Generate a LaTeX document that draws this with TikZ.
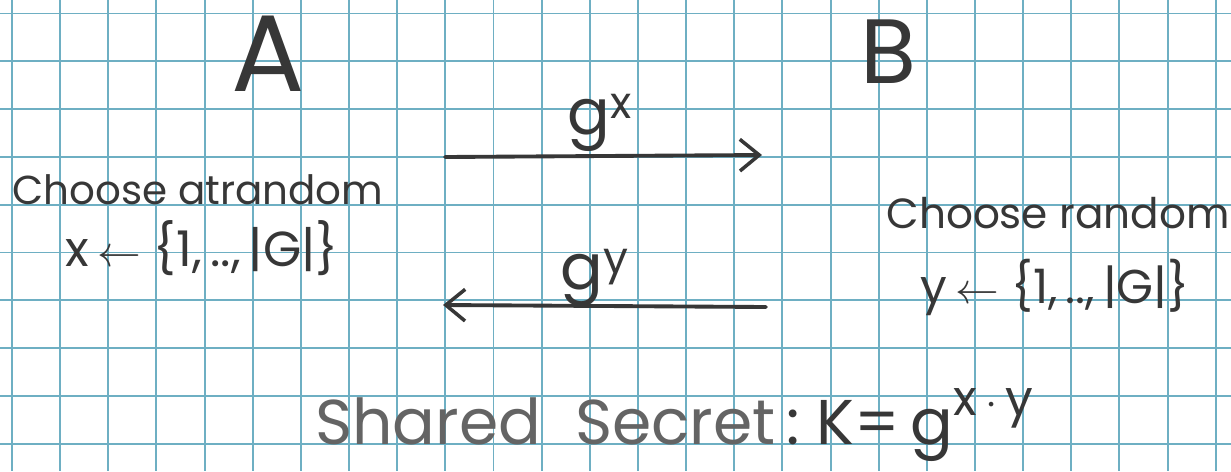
\documentclass[tikz,border=0pt]{standalone}
\usepackage{fontspec}
\setmainfont{Poppins}
\usetikzlibrary{arrows.meta,positioning}
\definecolor{gridblue}{RGB}{110,175,195}
\definecolor{ink}{RGB}{55,55,55}
\definecolor{pencil}{RGB}{100,100,100}

\begin{document}
\begin{tikzpicture}[x=0.02cm,y=-0.02cm,
  hand/.style={text=ink,inner sep=0pt},
  msg/.style={draw=ink,line width=2.2pt,line cap=round,
    -{Straight Barb[length=11pt,width=18pt,line width=2pt]}}]
  \useasboundingbox (0,0) rectangle (1231,471);
  \fill[white] (0,0) rectangle (1231,471);
  % grid paper
  \foreach \i in {0,...,25}
    \draw[gridblue,line width=1.1pt] ({12+48.15*\i},0) -- ({12+48.15*\i},471);
  \foreach \j in {0,...,9}
    \draw[gridblue,line width=1.1pt] (0,{13.5+47.8*\j}) -- (1231,{13.5+47.8*\j});
  % the two parties
  \node[hand,font=\fontsize{62}{70}\selectfont] (A) at (268,54) {A};
  \node[hand,font=\fontsize{52}{60}\selectfont] (B) at (888,52) {B};
  % what each side picks
  \node[hand,font=\fontsize{23}{28}\selectfont] (chooseA) at (198,190) {Choose atrandom};
  \node[hand,font=\fontsize{28}{32}\selectfont] (pickx) at (202,248)
    {x\,$\leftarrow$\ \{1,\,..,\,|G|\}};
  \node[hand,font=\fontsize{24}{28}\selectfont] (chooseB) at (1058,213) {Choose random};
  \node[hand,font=\fontsize{27}{32}\selectfont] (picky) at (1055,287)
    {y\,$\leftarrow$\ \{1,\,..,\,|G|\}};
  % messages
  \node[hand,font=\fontsize{36}{40}\selectfont] (gx) at (600,123) {g\textsuperscript{x}};
  \node[hand,font=\fontsize{36}{40}\selectfont] (gy) at (595,278) {g\textsuperscript{y}};
  \coordinate (gxstart) at (445,157);
  \coordinate (gxend) at (762,155);
  \coordinate (gystart) at (766,307);
  \coordinate (gyend) at (443,305);
  \draw[msg] (gxstart) -- (gxend);
  \draw[msg] (gystart) -- (gyend);
  % result
  \node[hand,anchor=base west,font=\fontsize{36}{40}\selectfont] (secret) at (315,444)
    {\textcolor{pencil}{Shared\ \ Secret}\,:\ K=\,g\raisebox{0.45em}{\fontsize{28}{30}\selectfont x\,$\cdot$\,y}};
\end{tikzpicture}
\end{document}
